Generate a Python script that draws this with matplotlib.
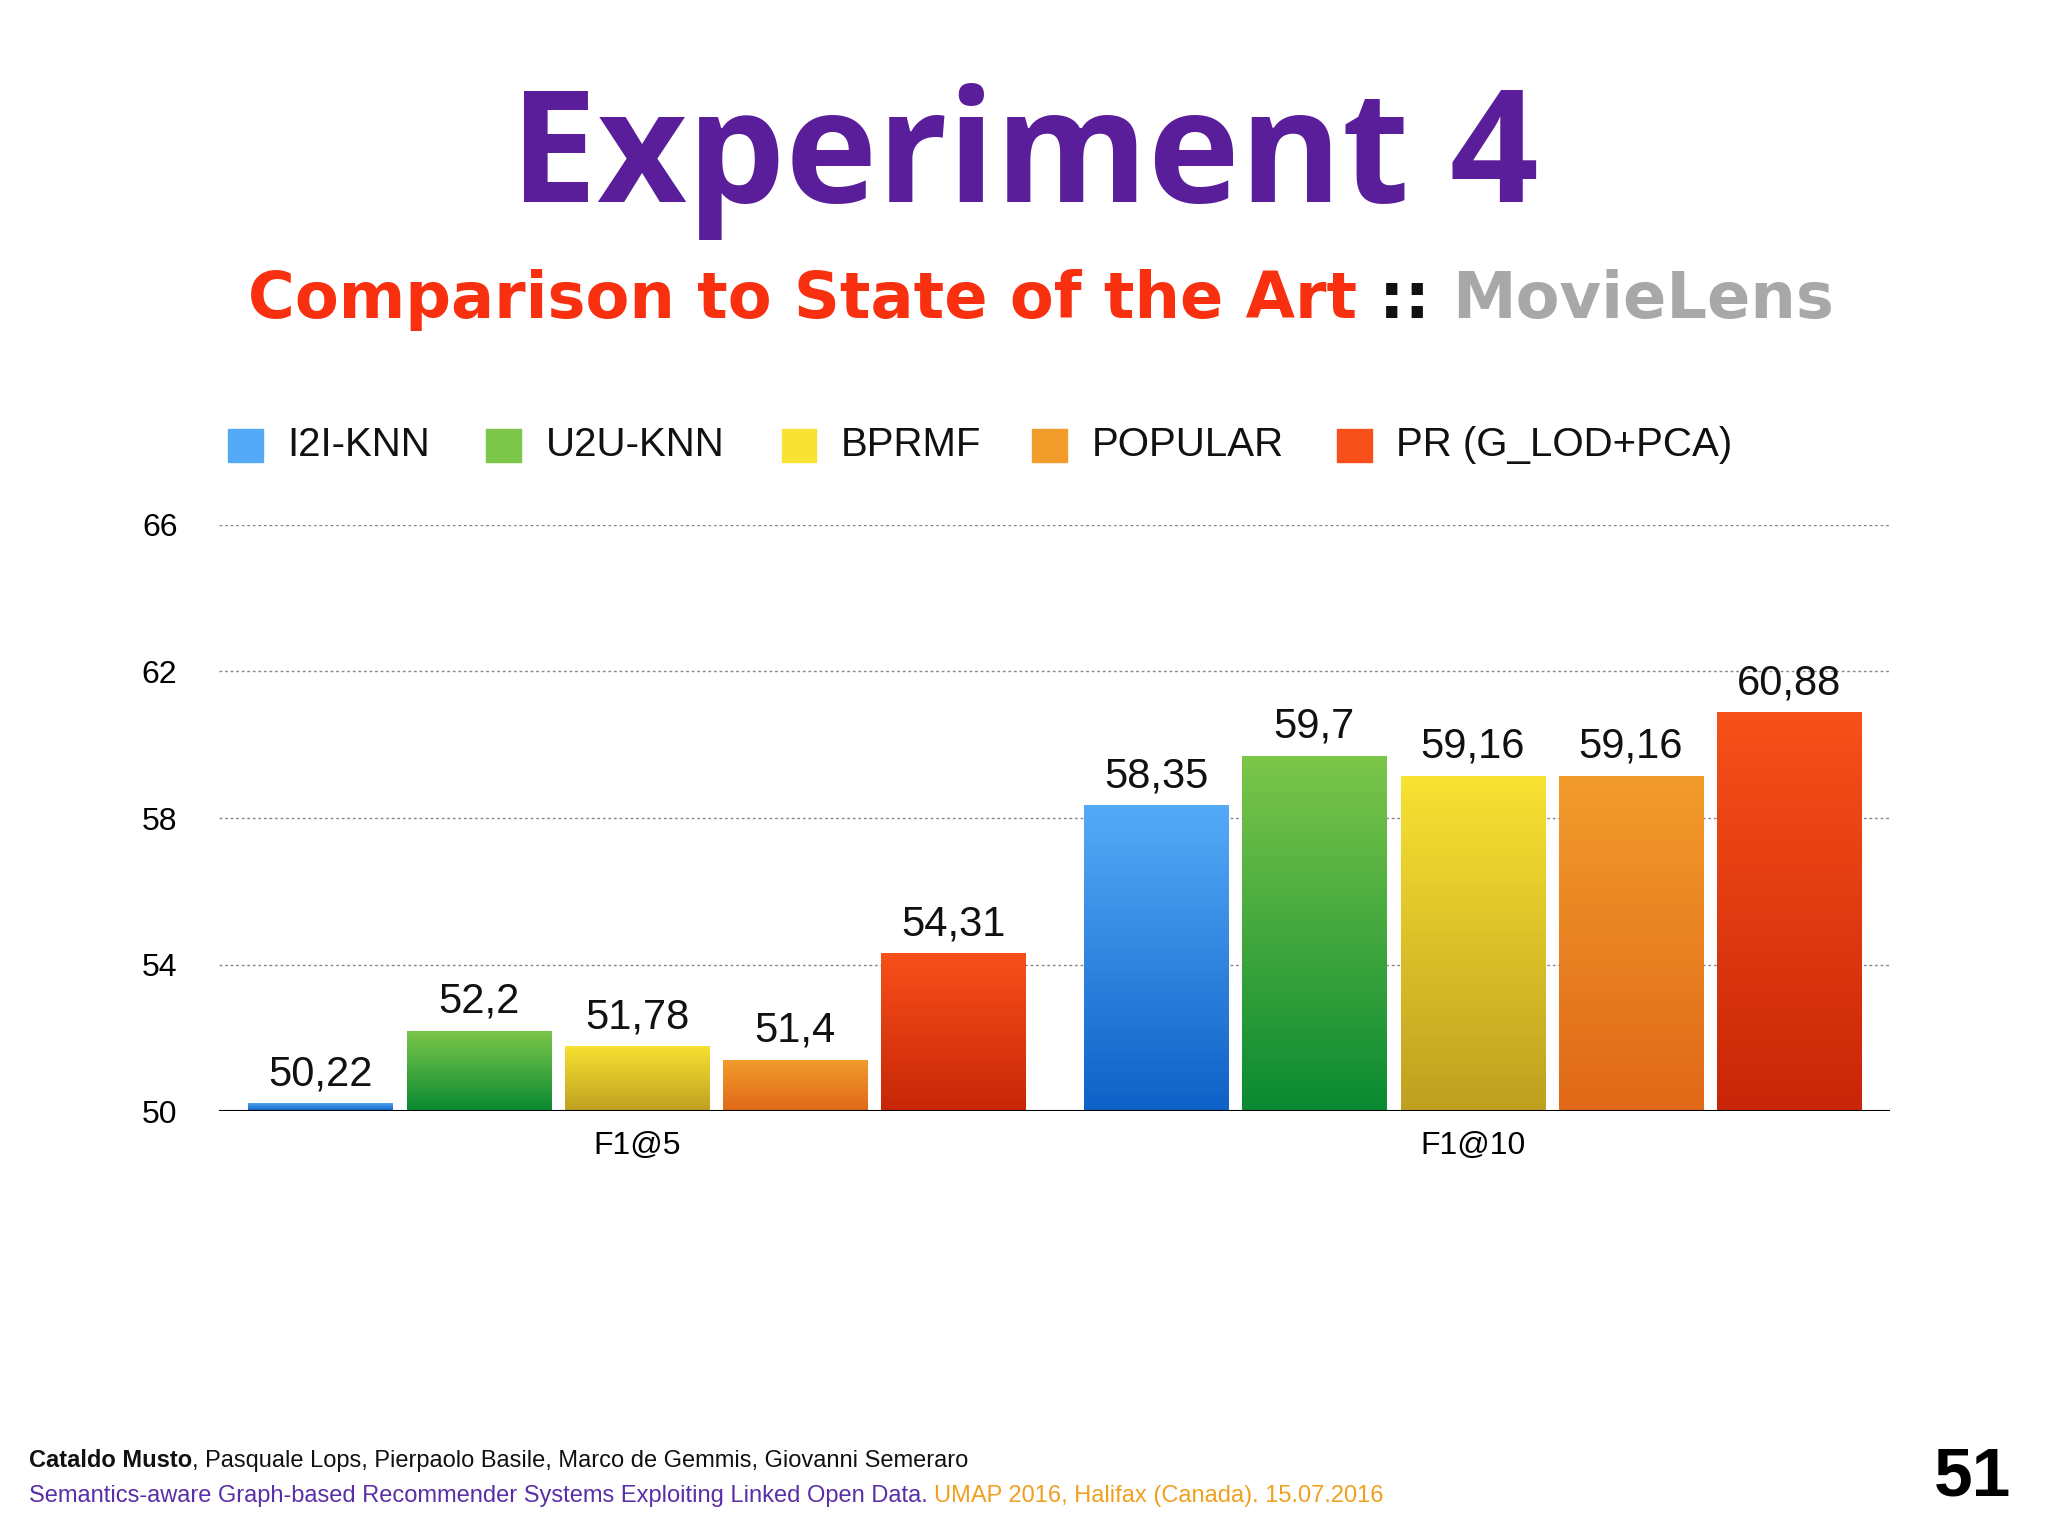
import matplotlib
matplotlib.use("Agg")
import matplotlib.pyplot as plt
import numpy as np
from matplotlib.patches import Rectangle
from matplotlib.colors import LinearSegmentedColormap

plt.rcParams["font.family"] = ["Liberation Sans", "DejaVu Sans"]

categories = ["F1@5", "F1@10"]
series = ["I2I-KNN", "U2U-KNN", "BPRMF", "POPULAR", "PR (G_LOD+PCA)"]
values = {
    "I2I-KNN": [50.22, 58.35],
    "U2U-KNN": [52.2, 59.7],
    "BPRMF": [51.78, 59.16],
    "POPULAR": [51.4, 59.16],
    "PR (G_LOD+PCA)": [54.31, 60.88],
}
yticks = [50, 54, 58, 62, 66]
colors = [("#55aaf7", "#0e62c8"), ("#7cc64a", "#0a8a32"), ("#f8e232", "#bfa020"),
          ("#f29c2c", "#e06818"), ("#f8501a", "#c82608")]

fig = plt.figure(figsize=(20.48, 15.36), dpi=100)
fig.patch.set_facecolor("white")
ax = fig.add_axes([0.107, 0.2764, 0.816, 0.382])
group_x = [0, 5.28]
w = 0.91
for i, s in enumerate(series):
    cmap = LinearSegmentedColormap.from_list("c", [colors[i][1], colors[i][0]])
    for g, v in zip(group_x, values[s]):
        x = g + (i - 2)
        grad = np.linspace(0, 1, 100).reshape(-1, 1)
        im = ax.imshow(grad, extent=(x - w/2, x + w/2, 50, v), origin="lower",
                       cmap=cmap, aspect="auto", zorder=3)
        r = Rectangle((x - w/2, 50), w, v - 50, transform=ax.transData, fill=False, lw=0)
        ax.add_patch(r)
        im.set_clip_path(r)
        ax.text(x, v + 0.25, f"{v:g}".replace(".", ","), ha="center", va="bottom",
                fontsize=30, color="#111111", zorder=4)
ax.set_xlim(-2.64, 7.92)
ax.set_ylim(50, 66)
ax.set_aspect("auto")
for t in yticks[1:]:
    ax.axhline(t, color="#888888", ls=(0, (2, 2)), lw=1, zorder=1)
ax.axhline(50, color="black", lw=1.5, zorder=5)
for sp in ax.spines.values():
    sp.set_visible(False)
ax.set_yticks(yticks)
ax.set_yticklabels([str(t) for t in yticks], fontsize=23)
ax.set_xticks(group_x)
ax.set_xticklabels(categories, fontsize=23)
ax.tick_params(length=0, pad=14)
ax.tick_params(axis="y", pad=30)

# legend
lx = [187, 385, 611, 803, 1036]
for i, s in enumerate(series):
    x0 = lx[i] / 1568
    fig.patches.append(Rectangle((x0 - 0.008, 0.699), 0.017, 0.022, transform=fig.transFigure,
                                 color=colors[i][0], figure=fig))
    fig.text(x0 + 0.021, 0.710, s, fontsize=29, va="center", ha="left", color="#111111")

fig.text(0.5, 0.895, "Experiment 4", ha="center", va="center", fontsize=112,
         fontweight="bold", color="#5a1e9a", family="Open Sans")

fig.canvas.draw()
renderer = fig.canvas.get_renderer()
W = fig.bbox.width

def chain(x, y, parts, **kw):
    for txt, col, extra in parts:
        t = fig.text(x, y, txt, color=col, ha="left", va="center", **kw, **extra)
        bb = t.get_window_extent(renderer)
        x += bb.width / W

kw = dict(fontsize=46, fontweight="bold", family="DejaVu Sans")
chain(0.121, 0.805, [("Comparison to State of the Art ", "#f83010", {}),
                     (":: ", "#111111", {}), ("MovieLens", "#a8a8a8", {})], **kw)
chain(0.014, 0.049, [("Cataldo Musto", "#111111", {"fontweight": "bold"}),
                     (", Pasquale Lops, Pierpaolo Basile, Marco de Gemmis, Giovanni Semeraro", "#111111", {})],
      fontsize=17)
chain(0.014, 0.026, [("Semantics-aware Graph-based Recommender Systems Exploiting Linked Open Data. ", "#5a2ea6", {}),
                     ("UMAP 2016, Halifax (Canada). 15.07.2016", "#f0a020", {})], fontsize=17)
fig.text(0.963, 0.038, "51", fontsize=50, fontweight="bold", ha="center", va="center")
fig.savefig("out.png", dpi=100)
